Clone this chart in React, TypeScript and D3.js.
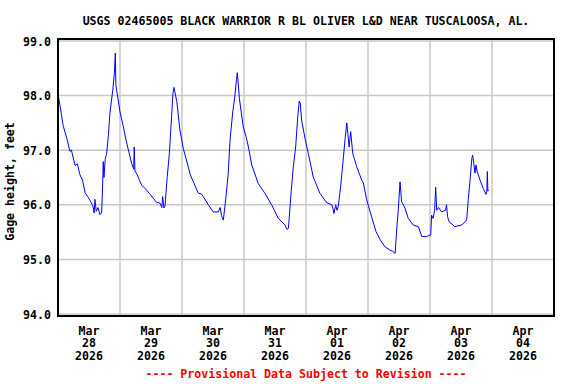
import React, { useEffect, useRef } from 'react';
import * as d3 from 'd3';

// hours after 2026-03-28 00:00 and the gage height read at that time
const hoursSinceStart = [
  0, 0.5, 2, 3.5, 4.6, 5.2, 6.6, 7.5, 8.5, 9.5, 10.5, 11.5, 12.4, 13.5, 14.0, 14.3, 14.8, 15.5, 16.2, 16.9,
  17.3, 17.5, 17.8, 18.3, 18.8, 19.5, 20.1, 21.2, 21.8, 22.2, 22.4, 22.7, 24, 25.3, 26.6, 28.5, 29.3, 29.5, 29.8, 30.7,
  31.5, 32.4, 34.3, 35.5, 36.9, 38.0, 39.5, 40.2, 40.5, 41.0, 41.4, 42.3, 43.1, 44, 44.5, 44.9, 45.3, 46, 47.2, 48.5,
  50.4, 51.2, 52.4, 54.3, 55.5, 56.2, 58.2, 60.1, 62.1, 62.8, 63.3, 64, 64.9, 65.9, 66.6, 67.6, 68.5, 69.1, 69.4, 69.8,
  70.2, 71.7, 72.8, 73.7, 75, 77.5, 80.1, 82.7, 85.3, 87.9, 88.6, 89.2, 90.2, 91.1, 92, 92.8, 93.4, 93.8, 94.3, 95.6,
  96.9, 98.8, 101.4, 104, 106, 106.5, 106.8, 107.5, 108, 108.5, 109.4, 110.5, 111.1, 111.8, 112.2, 112.7, 113.3, 114.1, 115.6, 117.6,
  118.2, 119.5, 121.4, 123.1, 124.7, 126.6, 128.5, 129.5, 130.5, 131.1, 131.7, 132.4, 133, 134.3, 135.6, 137.5, 139.5, 140.8, 142.7, 144.3,
  144.6, 145.2, 145.8, 146.2, 146.6, 147.3, 148.5, 150, 150.4, 150.8, 151.4, 153.6, 156.3, 158.2, 158.8, 159.5, 160.2, 160.5, 161.0, 161.4,
  161.8, 162.3, 163.4, 164.6, 165.7, 166.0, 166.2, 166.4, 166.6
];
const gageHeight = [
  98.02, 97.90, 97.45, 97.20, 96.98, 97.00, 96.72, 96.75, 96.55, 96.45, 96.22, 96.15, 96.08, 95.98, 95.85, 96.10, 95.88, 95.95, 95.82, 95.85,
  96.40, 96.79, 96.50, 96.85, 96.92, 97.28, 97.68, 98.10, 98.40, 98.78, 98.20, 98.10, 97.70, 97.43, 97.13, 96.76, 96.65, 97.06, 96.62, 96.55,
  96.45, 96.36, 96.27, 96.20, 96.12, 96.05, 96.03, 95.95, 96.15, 95.94, 95.97, 96.52, 96.94, 97.64, 98.05, 98.15, 98.05, 97.89, 97.37, 97.03,
  96.70, 96.55, 96.42, 96.21, 96.20, 96.15, 96.00, 95.87, 95.87, 95.95, 95.80, 95.72, 96.09, 96.58, 97.19, 97.68, 98.01, 98.30, 98.42, 98.20,
  97.95, 97.43, 97.25, 97.06, 96.73, 96.39, 96.21, 96.00, 95.75, 95.63, 95.55, 95.57, 96.21, 96.70, 97.06, 97.61, 97.90, 97.85, 97.55, 97.22,
  96.94, 96.51, 96.21, 96.04, 96.00, 95.92, 95.84, 96.00, 95.90, 95.97, 96.33, 96.88, 97.19, 97.50, 97.30, 97.06, 97.34, 96.94, 96.70, 96.45,
  96.40, 96.09, 95.78, 95.51, 95.36, 95.23, 95.17, 95.15, 95.11, 95.54, 95.90, 96.42, 96.06, 95.94, 95.75, 95.63, 95.60, 95.42, 95.42, 95.45,
  95.81, 95.75, 95.90, 96.32, 95.90, 95.95, 95.87, 95.90, 96.00, 95.78, 95.69, 95.60, 95.63, 95.72, 96.09, 96.45, 96.85, 96.91, 96.75, 96.58,
  96.73, 96.60, 96.45, 96.30, 96.19, 96.25, 96.61, 96.25, 96.27
];
const yTicks = [94, 95, 96, 97, 98, 99];
const dayLabels = ['Mar 28', 'Mar 29', 'Mar 30', 'Mar 31', 'Apr 01', 'Apr 02', 'Apr 03', 'Apr 04'];

const title = 'USGS 02465005 BLACK WARRIOR R BL OLIVER L&D NEAR TUSCALOOSA, AL.';
const yLabel = 'Gage height, feet';
const footer = '---- Provisional Data Subject to Revision ----';

const font = '"DejaVu Sans Mono", "Liberation Mono", monospace';

export default function App() {
  const ref = useRef<SVGSVGElement>(null);

  useEffect(() => {
    const svg = d3.select(ref.current);
    svg.selectAll('*').remove();

    const start = new Date(2026, 2, 28);
    const end = d3.timeDay.offset(start, 8);
    const left = 58, right = 554, top = 39, bottom = 316;

    const x = d3.scaleTime().domain([start, end]).range([left, right]);
    const y = d3.scaleLinear().domain([94, 99]).range([314, 41]);

    svg.append('rect').attr('width', 576).attr('height', 384).attr('fill', '#fff');

    // grid
    const grid = svg.append('g').attr('stroke', '#c8c8c8').attr('stroke-width', 1.5);
    yTicks.forEach(t => {
      grid.append('line').attr('x1', left).attr('x2', right).attr('y1', y(t)).attr('y2', y(t));
    });
    const days = d3.timeDay.range(d3.timeDay.offset(start, 1), end);
    days.forEach(d => {
      grid.append('line').attr('x1', x(d)).attr('x2', x(d)).attr('y1', top).attr('y2', bottom);
    });

    // data line
    const pts = hoursSinceStart.map((h, i) => [new Date(start.getTime() + h * 3600000), gageHeight[i]] as [Date, number]);
    const line = d3.line<[Date, number]>().x(d => x(d[0])).y(d => y(d[1]));
    svg.append('path')
      .datum(pts)
      .attr('d', line)
      .attr('fill', 'none')
      .attr('stroke', '#0000ff')
      .attr('stroke-width', 1);

    // frame
    svg.append('rect')
      .attr('x', left).attr('y', top)
      .attr('width', right - left).attr('height', bottom - top)
      .attr('fill', 'none').attr('stroke', '#000').attr('stroke-width', 2);

    const txt = svg.append('g')
      .attr('font-family', font)
      .attr('font-weight', 'bold')
      .attr('font-size', 11.6)
      .attr('fill', '#000');

    yTicks.forEach(t => {
      txt.append('text')
        .attr('x', 51).attr('y', y(t) + 4.5)
        .attr('text-anchor', 'end')
        .text(d3.format('.1f')(t));
    });

    dayLabels.forEach((lab, i) => {
      const mid = x(new Date(start.getTime() + (i * 24 + 12) * 3600000));
      const parts = lab.split(' ');
      [parts[0], parts[1], '2026'].forEach((s, k) => {
        txt.append('text')
          .attr('x', mid).attr('y', 334.5 + k * 12.7)
          .attr('text-anchor', 'middle')
          .text(s);
      });
    });

    txt.append('text')
      .attr('x', (left + right) / 2).attr('y', 25)
      .attr('text-anchor', 'middle')
      .text(title);

    txt.append('text')
      .attr('transform', `translate(14,${(top + bottom) / 2 + 4}) rotate(-90)`)
      .attr('text-anchor', 'middle')
      .text(yLabel);

    txt.append('text')
      .attr('x', (left + right) / 2).attr('y', 378)
      .attr('text-anchor', 'middle')
      .attr('fill', '#ff0000')
      .text(footer);
  }, []);

  return (
    <svg ref={ref} width={576} height={384} style={{ position: 'absolute', left: 0, top: 0 }} />
  );
}
